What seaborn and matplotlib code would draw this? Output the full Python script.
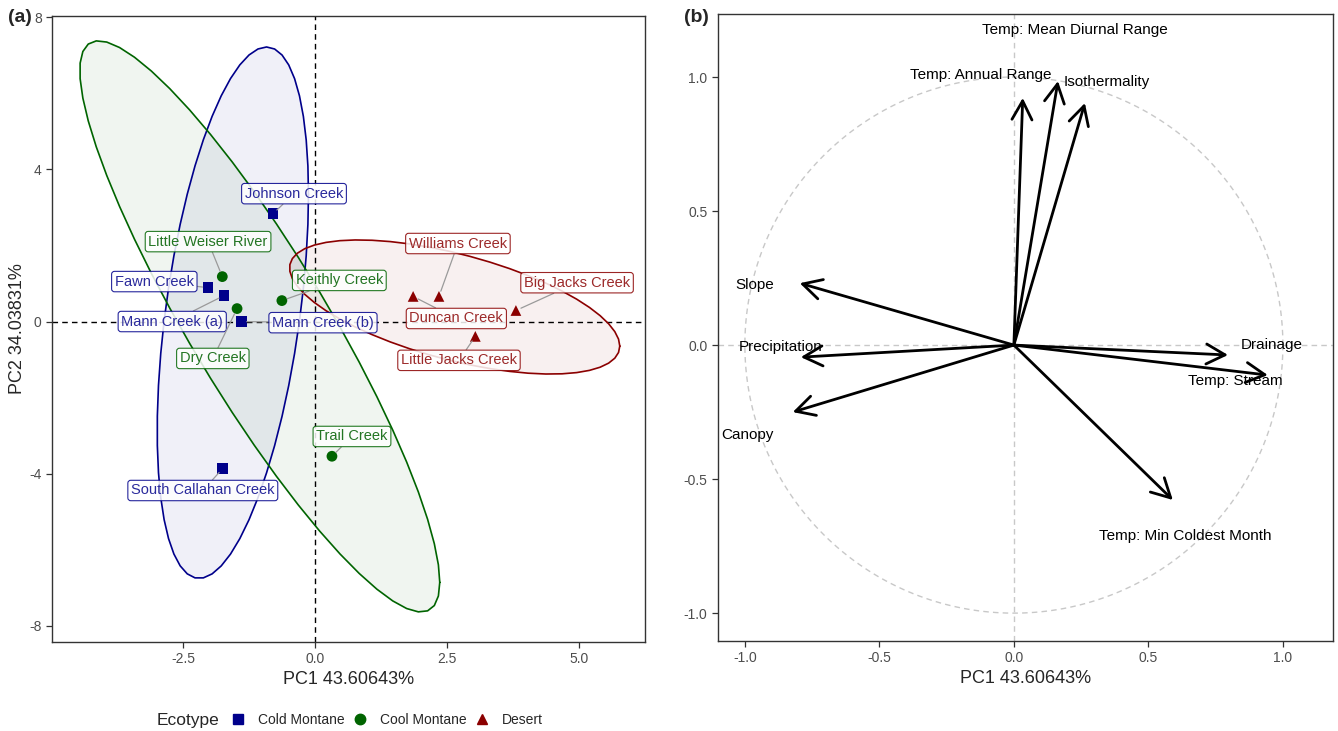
import numpy as np
import pandas as pd
import matplotlib
matplotlib.use("Agg")
import matplotlib.pyplot as plt
from matplotlib.lines import Line2D
import seaborn as sns

# ============================================================
# DATA
# ============================================================

sites = ["Johnson Creek", "Fawn Creek", "Mann Creek (a)", "Mann Creek (b)",
         "South Callahan Creek",
         "Little Weiser River", "Dry Creek", "Keithly Creek", "Trail Creek",
         "Duncan Creek", "Williams Creek", "Big Jacks Creek", "Little Jacks Creek"]
ecotype = ["Cold Montane"] * 5 + ["Cool Montane"] * 4 + ["Desert"] * 4
pc1 = [-0.80, -2.03, -1.73, -1.40, -1.75,
       -1.76, -1.48, -0.63, 0.32,
       1.86, 2.35, 3.81, 3.04]
pc2 = [2.83, 0.89, 0.68, 0.00, -3.86,
       1.18, 0.34, 0.55, -3.54,
       0.66, 0.66, 0.29, -0.39]

# where ggrepel put the labels (label centre, data units)
label_x = [-0.40, -3.05, -2.71, 0.15, -2.13,
           -2.03, -1.94, 0.46, 0.70,
           2.68, 2.71, 4.97, 2.73]
label_y = [3.36, 1.05, 0.00, -0.03, -4.44,
           2.10, -0.97, 1.08, -3.02,
           0.08, 2.05, 1.02, -1.02]

variables = ["Temp: Mean Diurnal Range", "Temp: Annual Range", "Isothermality",
             "Slope", "Precipitation", "Canopy",
             "Drainage", "Temp: Stream", "Temp: Min Coldest Month"]
load1 = [0.164, 0.033, 0.264, -0.796, -0.792, -0.822, 0.796, 0.944, 0.591]
load2 = [0.985, 0.922, 0.903, 0.231, -0.045, -0.250, -0.037, -0.112, -0.578]
var_lab_x = [0.227, -0.123, 0.346, -0.963, -0.866, -0.989, 0.959, 0.825, 0.636]
var_lab_y = [1.175, 1.007, 0.981, 0.224, -0.007, -0.336, 0.000, -0.134, -0.713]

pc1_label = "PC1 43.60643%"
pc2_label = "PC2 34.03831%"

palette = {"Cold Montane": "#00008B", "Cool Montane": "#006400", "Desert": "#8B0000"}
text_col = {"Cold Montane": "#2a2a9c", "Cool Montane": "#237523", "Desert": "#9c2a2a"}
markers = {"Cold Montane": "s", "Cool Montane": "o", "Desert": "^"}

df = pd.DataFrame({"site": sites, "Ecotype": ecotype, "PC1": pc1, "PC2": pc2,
                   "lx": label_x, "ly": label_y})


# ============================================================
# stat_ellipse (type = "t", level = 0.95) re-done in numpy
# ============================================================

def cov_trob(xy, nu=5, maxit=25, tol=0.01):
    n, p = xy.shape
    wt = np.ones(n)
    loc = xy.mean(axis=0)
    w = np.sqrt(wt)
    for _ in range(maxit):
        w0 = w
        X = xy - loc
        _, d, vt = np.linalg.svd(np.sqrt(w / w.sum())[:, None] * X, full_matrices=False)
        wX = X @ vt.T @ np.diag(1 / d)
        Q = (wX ** 2).sum(axis=1)
        w = wt * (nu + p) / (nu + Q)
        loc = (w[:, None] * xy).sum(axis=0) / w.sum()
        if np.all(np.abs(w - w0) < tol):
            break
    sX = np.sqrt(w)[:, None] * X
    return loc, sX.T @ sX / wt.sum()


def t_ellipse(xy, level=0.95, segments=51):
    center, shape = cov_trob(xy)
    dfd = len(xy) - 1
    # qf(level, 2, dfd) has a closed form
    qf = dfd / 2 * ((1 - level) ** (-2 / dfd) - 1)
    radius = np.sqrt(2 * qf)
    U = np.linalg.cholesky(shape).T
    ang = np.linspace(0, 2 * np.pi, segments + 1)
    circ = np.column_stack([np.cos(ang), np.sin(ang)])
    return center + radius * circ @ U


# ============================================================
# FIGURE
# ============================================================

sns.set_style("ticks")
plt.rcParams["font.family"] = ["Liberation Sans", "DejaVu Sans"]
plt.rcParams["axes.unicode_minus"] = False

fig = plt.figure(figsize=(13.38, 7.31), dpi=100)
ax1 = fig.add_axes([0.0389, 0.1218, 0.4432, 0.8564])
ax2 = fig.add_axes([0.5366, 0.1231, 0.4596, 0.8577])

for ax in (ax1, ax2):
    for s in ax.spines.values():
        s.set_color("#333333")
        s.set_linewidth(1.0)
    ax.tick_params(colors="#333333", labelcolor="#4d4d4d", labelsize=10,
                   length=4, width=0.9)

# --- panel (a) ---
for eco, col in palette.items():
    sub = df[df["Ecotype"] == eco]
    ell = t_ellipse(sub[["PC1", "PC2"]].to_numpy())
    ax1.fill(ell[:, 0], ell[:, 1], color=col, alpha=0.06, lw=0, zorder=1)
    ax1.plot(ell[:, 0], ell[:, 1], color=col, lw=1.2, zorder=2)

ax1.axhline(0, color="black", ls=(0, (4, 3)), lw=1.0, zorder=1.5)
ax1.axvline(0, color="black", ls=(0, (4, 3)), lw=1.0, zorder=1.5)

sns.scatterplot(data=df, x="PC1", y="PC2", hue="Ecotype", style="Ecotype",
                palette=palette, markers=markers, s=60, edgecolor="none",
                legend=False, ax=ax1, zorder=4)

for _, r in df.iterrows():
    col = palette[r["Ecotype"]]
    ax1.annotate(r["site"], xy=(r["PC1"], r["PC2"]), xytext=(r["lx"], r["ly"]),
                 ha="center", va="center", fontsize=10.5,
                 color=text_col[r["Ecotype"]], zorder=5,
                 bbox=dict(boxstyle="round,pad=0.22,rounding_size=0.2",
                           fc="white", ec=col, lw=0.8, alpha=0.85),
                 arrowprops=dict(arrowstyle="-", color="#9a9a9a", lw=0.9,
                                 shrinkA=0, shrinkB=4))

ax1.set_xlim(-4.99, 6.26)
ax1.set_ylim(-8.42, 8.03)
ax1.set_xticks([-2.5, 0.0, 2.5, 5.0])
ax1.set_xticklabels(["-2.5", "0.0", "2.5", "5.0"])
ax1.set_yticks([-8, -4, 0, 4, 8])
ax1.set_xlabel(pc1_label, fontsize=13, labelpad=3)
ax1.set_ylabel(pc2_label, fontsize=13, labelpad=2)

# --- panel (b) ---
t = np.linspace(0, 2 * np.pi, 300)
ax2.plot(np.cos(t), np.sin(t), color="#c8c8c8", ls=(0, (4, 3)), lw=1.0, zorder=1)
ax2.axhline(0, color="#c8c8c8", ls=(0, (4, 3)), lw=1.0, zorder=1)
ax2.axvline(0, color="#c8c8c8", ls=(0, (4, 3)), lw=1.0, zorder=1)

for v, x, y, tx, ty in zip(variables, load1, load2, var_lab_x, var_lab_y):
    ax2.annotate("", xy=(x, y), xytext=(0, 0), zorder=3,
                 arrowprops=dict(arrowstyle="->,head_length=0.75,head_width=0.4",
                                 color="black", lw=2.0, shrinkA=0, shrinkB=0,
                                 mutation_scale=18))
    ax2.text(tx, ty, v, ha="center", va="center", fontsize=11, color="black", zorder=4)

ax2.set_xlim(-1.10, 1.186)
ax2.set_ylim(-1.104, 1.235)
ax2.set_xticks([-1.0, -0.5, 0.0, 0.5, 1.0])
ax2.set_xticklabels(["-1.0", "-0.5", "0.0", "0.5", "1.0"])
ax2.set_yticks([-1.0, -0.5, 0.0, 0.5, 1.0])
ax2.set_yticklabels(["-1.0", "-0.5", "0.0", "0.5", "1.0"])
ax2.set_xlabel(pc1_label, fontsize=13, labelpad=3)

# panel tags
fig.text(8 / 1338, 1 - 18 / 731, "(a)", fontsize=14, fontweight="bold", va="center")
fig.text(684 / 1338, 1 - 18 / 731, "(b)", fontsize=14, fontweight="bold", va="center")

# legend under panel (a)
fig.text(157 / 1338, 1 - 720 / 731, "Ecotype", fontsize=12.5, va="center")
handles = [Line2D([], [], ls="none", marker=markers[k], color=c, markersize=7.5)
           for k, c in palette.items()]
fig.legend(handles, list(palette.keys()), loc="center left", ncol=3,
           bbox_to_anchor=(225 / 1338, 1 - 720 / 731), frameon=False,
           fontsize=10, handletextpad=0.95, columnspacing=0.6, handlelength=1.0,
           borderaxespad=0)

fig.savefig("out.png", dpi=100)
